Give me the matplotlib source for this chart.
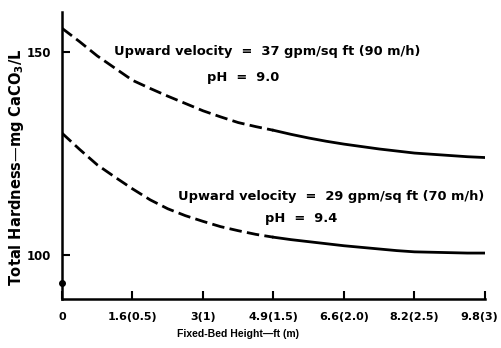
import matplotlib.pyplot as plt
import matplotlib.transforms as mtransforms

# fixed-bed height (m) and total hardness (mg CaCO3/L)
height_m = [0, 0.125, 0.25, 0.375, 0.5, 0.625, 0.75, 0.875, 1.0, 1.125, 1.25, 1.375, 1.5,
            1.625, 1.75, 1.875, 2.0, 2.125, 2.25, 2.375, 2.5, 2.625, 2.75, 2.875, 3.0]
hard_37gpm = [155.8, 152.5, 149.0, 146.0, 143.0, 141.0, 139.1, 137.3, 135.5, 134.0, 132.6, 131.6, 130.7,
              129.7, 128.8, 128.0, 127.3, 126.7, 126.1, 125.6, 125.1, 124.8, 124.5, 124.2, 124.0]
hard_29gpm = [130.0, 126.0, 122.2, 119.2, 116.3, 113.6, 111.4, 109.7, 108.3, 107.0, 106.0, 105.1, 104.4,
              103.8, 103.3, 102.8, 102.3, 101.9, 101.5, 101.1, 100.8, 100.7, 100.6, 100.5, 100.5]
split = 12  # dashed up to 1.5 m, solid after

tick_pos = [0, 0.5, 1.0, 1.5, 2.0, 2.5, 3.0]
tick_labels = ['0', '1.6(0.5)', '3(1)', '4.9(1.5)', '6.6(2.0)', '8.2(2.5)', '9.8(3)']
y_ticks = [100, 150]
dot_y = 93.2

plt.rcParams['font.family'] = ['DejaVu Sans']
plt.rcParams['font.weight'] = 'bold'

fig = plt.figure(figsize=(5.02, 3.48), dpi=100)
ax = fig.add_axes([62 / 502, 49 / 348, 423 / 502, 287 / 348])

for ys in (hard_37gpm, hard_29gpm):
    ax.plot(height_m[:split + 1], ys[:split + 1], color='black', lw=2.0,
            dashes=(4.5, 1.9), solid_capstyle='butt')
    ax.plot(height_m[split:], ys[split:], color='black', lw=2.0)

ax.plot([0], [dot_y], 'o', color='black', ms=4, clip_on=False, zorder=5)

ax.text(0.37, 150, 'Upward velocity  =  37 gpm/sq ft (90 m/h)', fontsize=9.4,
        fontweight='bold', va='center')
ax.text(1.03, 143.6, 'pH  =  9.0', fontsize=9.4, fontweight='bold', va='center')
ax.text(0.82, 114.3, 'Upward velocity  =  29 gpm/sq ft (70 m/h)', fontsize=9.4,
        fontweight='bold', va='center')
ax.text(1.44, 109.1, 'pH  =  9.4', fontsize=9.4, fontweight='bold', va='center')

ax.set_xlim(0, 3)
ax.set_ylim(89.2, 159.8)
ax.set_xticks(tick_pos)
ax.set_xticklabels(tick_labels, fontsize=8, fontweight='bold')
ax.set_yticks(y_ticks)
ax.set_yticklabels([str(v) for v in y_ticks], fontsize=8.5, fontweight='bold')
ax.tick_params(direction='in', length=6, width=1.5, pad=8)
ax.tick_params(axis='x', pad=9)

# last label sits a little left of its tick, as in the original
last = ax.get_xticklabels()[-1]
last.set_transform(last.get_transform() +
                   mtransforms.ScaledTranslation(-6 / 100, 0, fig.dpi_scale_trans))

for side in ('top', 'right'):
    ax.spines[side].set_visible(False)
for side in ('left', 'bottom'):
    ax.spines[side].set_linewidth(1.8)

ax.set_xlabel('Fixed-Bed Height\u2014ft (m)', fontsize=7.5, fontweight='bold',
              family='Liberation Sans')
ax.xaxis.set_label_coords(0.415, -0.105)
ax.set_ylabel('Total Hardness\u2014mg CaCO$_\\mathbf{3}$/L', fontsize=10.5, fontweight='bold')
ax.yaxis.set_label_coords(-0.085, 0.46)

fig.savefig('out.png', dpi=100)
